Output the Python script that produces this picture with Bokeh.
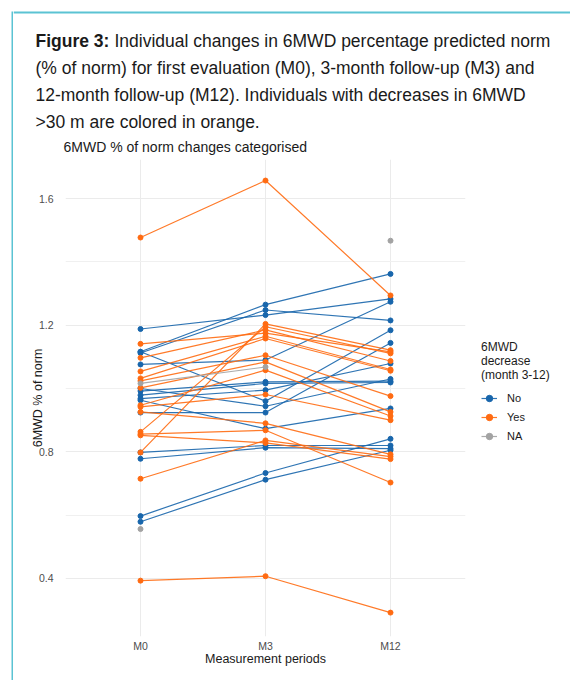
import math
from bokeh.plotting import figure
from bokeh.layouts import column, row
from bokeh.models import FactorRange, FixedTicker, Legend, LegendItem, Range1d
from bokeh.core.properties import value
from bokeh.embed import file_html
from bokeh.resources import INLINE

NaN = float("nan")

# ---- data ----
periods = ["M0", "M3", "M12"]
groups = ["No", "Yes", "NA"]
group_colors = ["#1866ac", "#ff6b12", "#a3a3a3"]

decrease = (["No"] * 15) + (["Yes"] * 16) + (["NA"] * 3)
m0 = [1.188, 1.116, 1.112, 1.116, 1.076, 0.992, 0.979, 0.968, 0.963, 0.924,
      1.000, 0.798, 0.778, 0.597, 0.579,
      1.477, 1.141, 1.097, 1.054, 1.032, 1.024, 1.002, 0.947, 0.942, 0.926,
      0.863, 0.856, 0.852, 0.798, 0.715, 0.393,
      1.016, 0.556, NaN]
m3 = [1.232, 1.265, 1.248, 0.960, 1.090, 1.021, 1.016, 0.995, 0.873, 0.924,
      0.944, 0.820, 0.813, 0.733, 0.712,
      1.657, 1.175, 1.185, 1.165, 1.158, 1.105, 1.084, 1.058, 0.981, 0.890,
      1.195, 0.868, 0.828, 1.204, 0.836, 0.407,
      1.068, NaN, NaN]
m12 = [1.283, 1.362, 1.215, 1.184, 1.274, 1.023, 1.019, 1.079, 0.937, 1.144,
       1.030, 0.820, 0.810, 0.841, 0.805,
       1.294, 1.116, 1.087, 1.060, 1.056, 0.976, 0.926, 0.913, 0.900, 0.792,
       1.111, 0.703, 0.777, 1.121, 0.785, 0.292,
       NaN, NaN, 1.467]

y_ticks = [0.4, 0.8, 1.2, 1.6]
y_minor = [0.6, 1.0, 1.4]

chart_title = "6MWD % of norm changes categorised"
legend_title = "6MWD\ndecrease\n(month 3-12)"
caption_bold = "Figure 3:"
caption_lines = ["Individual changes in 6MWD percentage predicted norm",
                 "(% of norm) for first evaluation (M0), 3-month follow-up (M3) and",
                 "12-month follow-up (M12). Individuals with decreases in 6MWD",
                 ">30 m are colored in orange."]

FONT = "Liberation Sans"
TEAL = "#5bc3d3"
STRIP_W, TOTAL_H = 13, 680
CAP_W, CAP_H = 557, 132


def blank(width, height):
    f = figure(width=width, height=height, x_range=Range1d(0, width),
               y_range=Range1d(height, 0), output_backend="svg",
               toolbar_location=None, min_border=0,
               x_axis_location=None, y_axis_location=None)
    f.grid.visible = False
    f.outline_line_color = None
    f.background_fill_color = "white"
    f.border_fill_color = "white"
    return f


# ---- left teal strip (full height) ----
strip = blank(STRIP_W, TOTAL_H)
strip.quad(left=[11], right=[13], top=[11], bottom=[TOTAL_H],
           fill_color=TEAL, line_color=None)

# ---- caption panel ----
cap = blank(CAP_W, CAP_H)
cap.quad(left=[0], right=[CAP_W], top=[11], bottom=[13], fill_color=TEAL,
         line_color=None)
cap_y = [40, 67, 94, 121]
cap.text(x=[22], y=[cap_y[0]], text=[caption_bold], text_font=value(FONT),
         text_font_style="bold", text_font_size="17.5px",
         text_baseline="middle", text_color="#1a1a1a")
cap.text(x=[101, 22, 22, 22], y=cap_y, text=caption_lines,
         text_font=value(FONT), text_font_size="17.5px",
         text_baseline="middle", text_color="#1a1a1a")

# ---- main chart ----
p = figure(frame_width=400, frame_height=477,
           x_range=FactorRange(*periods, range_padding=0.1,
                               range_padding_units="absolute"),
           y_range=(0.2165, 1.7235),
           output_backend="svg", toolbar_location=None,
           min_border_left=52, min_border_right=105,
           min_border_top=27, min_border_bottom=44,
           title=chart_title)
p.outline_line_color = None
p.background_fill_color = "white"
p.border_fill_color = "white"
p.title.text_font = FONT
p.title.text_font_size = "14px"
p.title.text_font_style = "normal"
p.title.text_color = "#1a1a1a"
p.title.align = "left"
p.title.offset = -2
p.title.standoff = 9

p.xgrid.grid_line_color = "#ebebeb"
p.ygrid.grid_line_color = "#ebebeb"
p.ygrid.minor_grid_line_color = "#f0f0f0"
p.yaxis.ticker = FixedTicker(ticks=y_ticks, minor_ticks=y_minor)

for ax in (p.xaxis[0], p.yaxis[0]):
    ax.axis_line_color = None
    ax.major_tick_line_color = None
    ax.minor_tick_line_color = None
    ax.major_label_text_color = "#4d4d4d"
    ax.major_label_text_font_size = "10.5px"
    ax.major_label_text_font = FONT
    ax.axis_label_text_font = FONT
    ax.axis_label_text_font_size = "12.5px"
    ax.axis_label_text_font_style = "normal"
    ax.axis_label_text_color = "#1a1a1a"
p.xaxis.axis_label = "Measurement periods"
p.yaxis.axis_label = "6MWD % of norm"
p.xaxis.major_label_standoff = -3
p.xaxis.axis_label_standoff = -3
p.yaxis.major_label_standoff = 6
p.yaxis.axis_label_standoff = -9

line_r = {}
pt_r = {}
for g, col in zip(groups, group_colors):
    xs, ys, px, py = [], [], [], []
    for i, d in enumerate(decrease):
        if d != g:
            continue
        vals = [m0[i], m3[i], m12[i]]
        xs.append(list(periods))
        ys.append(vals)
        for per, v in zip(periods, vals):
            if not math.isnan(v):
                px.append(per)
                py.append(v)
    line_r[g] = p.multi_line(xs=xs, ys=ys, line_color=col, line_width=1.2,
                             line_alpha=0.9)
    pt_r[g] = p.scatter(x=px, y=py, size=5, fill_color=col, line_color=col)

legend = Legend(items=[LegendItem(label=g, renderers=[line_r[g], pt_r[g]])
                       for g in groups],
                location=(16, 192), orientation="vertical",
                title=legend_title, title_text_font=FONT,
                title_text_font_size="12px", title_text_font_style="normal",
                title_text_color="#1a1a1a", title_standoff=8,
                glyph_width=16, glyph_height=16, label_height=16,
                spacing=3, padding=0, margin=0, label_standoff=10,
                label_text_font_size="11px", label_text_font=FONT,
                label_text_color="#1a1a1a",
                border_line_color=None, background_fill_alpha=0)
p.add_layout(legend, "right")

layout = row(strip, column(cap, row(p, spacing=0), spacing=0), spacing=0)

open("out.html", "w").write(file_html(layout, INLINE))
